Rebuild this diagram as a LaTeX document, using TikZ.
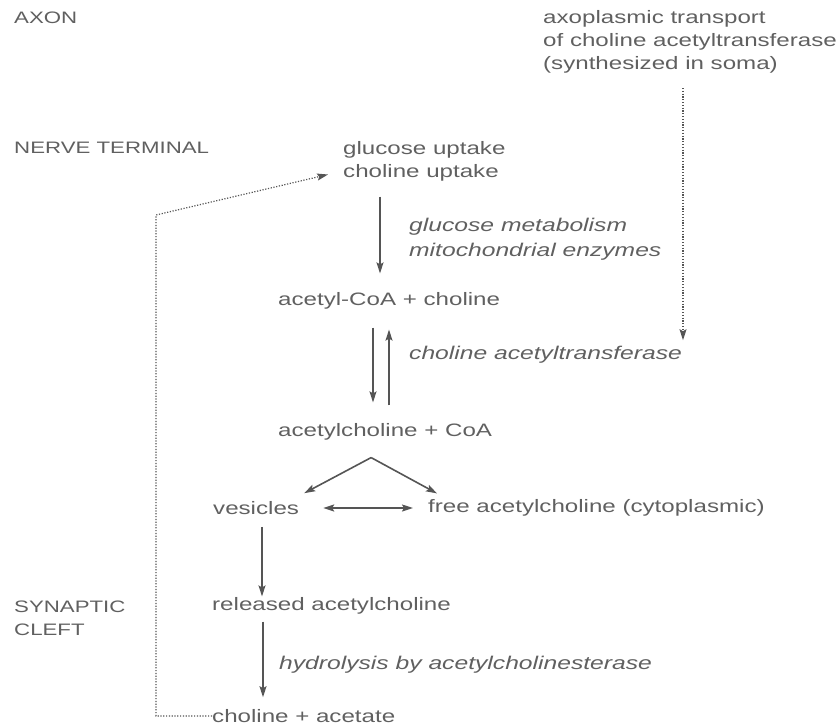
\documentclass[tikz,border=0pt]{standalone}
\usepackage{fontspec}
\setmainfont{Liberation Sans}[FakeStretch=1.34]
\usepackage{tikz}
\usetikzlibrary{arrows.meta,positioning,calc}
\definecolor{txtgray}{RGB}{96,96,96}
\definecolor{lngray}{RGB}{85,85,85}
\tikzset{
    %Define standard arrow tip
    >={Stealth[length=11pt,width=7pt,inset=2pt]},
    %Define style for texts
    title/.style={
           text=txtgray,
           inner sep=0pt,
           anchor=west,
           align=left,
           font=\fontsize{18}{23}\selectfont},
    % Define arrow style
    pil/.style={
           ->,
           draw=lngray,
           line width=1.6pt},
    dotpil/.style={
           ->,
           draw=lngray,
           line width=1.2pt,
           dash pattern=on 1.2pt off 1.6pt}
}
\begin{document}
\begin{tikzpicture}[x=1pt, y=-1pt]
	\tikzstyle{region} = [title, font=\fontsize{16.6}{23}\selectfont]
	\tikzstyle{enzyme} = [title, font=\fontsize{18.4}{25}\selectfont\itshape]
	\useasboundingbox (0,0) rectangle (840,727);

	% Regions
	\node[region](axon) at (14,18){AXON};
	\node[region](nerve) at (14,148){NERVE TERMINAL};
	\node[region](cleft) at (14,618){SYNAPTIC\\CLEFT};

	% Pathway
	\node[title](axo) at (543,41.5){axoplasmic transport\\of choline acetyltransferase\\(synthesized in soma)};
	\node[title](uptake) at (343,161.5){glucose uptake\\choline uptake};
	\node[enzyme](glumet) at (409,239.5){glucose metabolism\\mitochondrial enzymes};
	\node[title](acoa) at (278,301){acetyl-CoA + choline};
	\node[enzyme](cat) at (409,355){choline acetyltransferase};
	\node[title](achcoa) at (278,432){acetylcholine + CoA};
	\node[title](vesicles) at (213,508){vesicles};
	\node[title](free) at (428,508){free acetylcholine (cytoplasmic)};
	\node[title](released) at (212,606){released acetylcholine};
	\node[enzyme](hydro) at (279,665){hydrolysis by acetylcholinesterase};
	\node[title](choacet) at (212,716){choline + acetate};

	% Arrow columns
	\coordinate (c1) at (380,0);
	\coordinate (c2) at (373,0);
	\coordinate (c3) at (389,0);
	\coordinate (c4) at (683,0);
	\coordinate (c5) at (262,0);
	\coordinate (c6) at (263,0);
	\coordinate (apex) at ($(achcoa.south)+(-14,17)$);
	\coordinate (corner) at (156,215);

	\draw[pil, shorten <=15pt, shorten >=19pt] (uptake.south -| c1) -- (acoa.north -| c1);
	\draw[pil, shorten <=18pt, shorten >=21pt] (acoa.south -| c2) -- (achcoa.north -| c2);
	\draw[pil, shorten <=18pt, shorten >=20pt] (achcoa.north -| c3) -- (acoa.south -| c3);
	\draw[dotpil, shorten <=15pt, shorten >=6pt] (axo.south -| c4) -- (cat.north -| c4);

	\draw[pil] (apex) -- ([xshift=5pt,yshift=8pt]vesicles.north east);
	\draw[pil] (apex) -- ([xshift=9pt,yshift=6pt]free.north west);
	\draw[pil, <->, shorten <=24pt, shorten >=15pt] (vesicles.east) -- (vesicles.east -| free.west);

	\draw[pil, shorten <=12pt, shorten >=1pt] (vesicles.south -| c5) -- (released.north -| c5);
	\draw[pil, shorten <=7pt, shorten >=12pt] (released.south -| c6) -- (choacet.north -| c6);

	% Recycled choline
	\draw[dotpil] (choacet.west) -| (corner) -- ([xshift=-15pt,yshift=-13pt]uptake.west);

\end{tikzpicture}
\end{document}
